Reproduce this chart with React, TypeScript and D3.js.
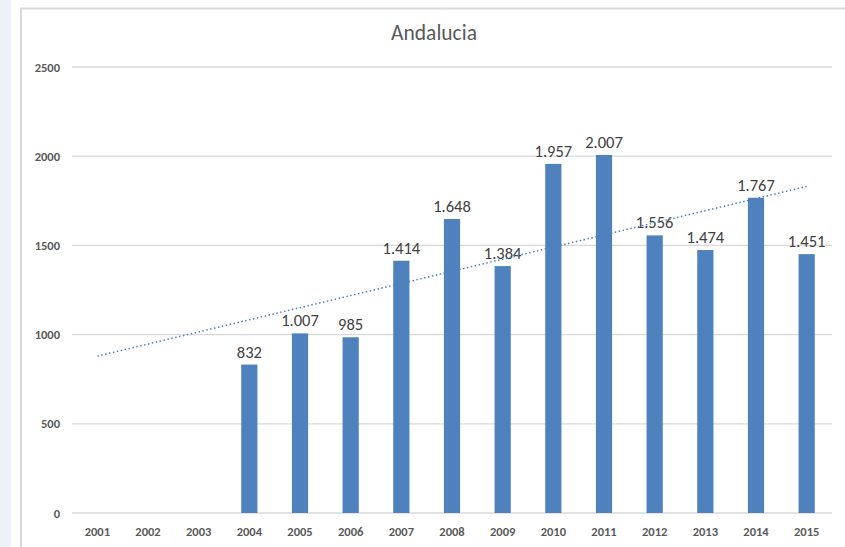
import React from "react";
import * as d3 from "d3";

const years = ["2001","2002","2003","2004","2005","2006","2007","2008","2009","2010","2011","2012","2013","2014","2015"];
const values: (number | null)[] = [null, null, null, 832, 1007, 985, 1414, 1648, 1384, 1957, 2007, 1556, 1474, 1767, 1451];
const yTicks = [0, 500, 1000, 1500, 2000, 2500];
const title = "Andalucia";

const W = 845, H = 547;
const left = 72, right = 832, top = 67, bottom = 513;

export default function App() {
  const x = d3.scaleBand<string>().domain(years).range([left, right]).paddingInner(0.68).paddingOuter(0.34);
  const y = d3.scaleLinear().domain([0, 2500]).range([bottom, top]);
  const fmt = (v: number) => d3.format(",")(v).replace(/,/g, ".");

  // linear trend (least squares over available points, x index 1..15)
  const pts = values.map((v, i) => [i + 1, v] as [number, number | null]).filter(p => p[1] != null) as [number, number][];
  const mx = d3.mean(pts, p => p[0])!;
  const my = d3.mean(pts, p => p[1])!;
  const sxy = d3.sum(pts, p => (p[0] - mx) * (p[1] - my));
  const sxx = d3.sum(pts, p => (p[0] - mx) ** 2);
  const slope = sxy / sxx;
  const icpt = my - slope * mx;
  const trend = years.map((yr, i) => [yr, icpt + slope * (i + 1)] as [string, number]);
  const line = d3.line<[string, number]>()
    .x(d => x(d[0])! + x.bandwidth() / 2)
    .y(d => y(d[1]));
  const trendEnds = [trend[0], trend[trend.length - 1]];

  const font = "Calibri, Carlito, 'Liberation Sans', Arial, sans-serif";

  return (
    <svg width={W} height={H} style={{ position: "absolute", left: 0, top: 0, display: "block" }} fontFamily={font}>
      <rect x={0} y={0} width={W} height={H} fill="#ffffff" />
      <rect x={0} y={0} width={11} height={H} fill="#eef2f8" />
      <rect x={21} y={8.5} width={W + 10} height={H + 10} fill="#ffffff" stroke="#d9d9d9" strokeWidth={2} />
      <text x={434} y={40} textAnchor="middle" fontSize={21.5} fill="#595959">{title}</text>
      {yTicks.map(t => (
        <g key={t}>
          <line x1={left} x2={right} y1={y(t)} y2={y(t)} stroke="#d9d9d9" strokeWidth={1.3} />
          <text x={left - 12} y={y(t) + 4.5} textAnchor="end" fontSize={12.5} fontWeight="bold" fill="#595959">{t}</text>
        </g>
      ))}
      {years.map((yr, i) => values[i] != null && (
        <g key={yr}>
          <rect x={x(yr)!} y={y(values[i]!)} width={x.bandwidth()} height={bottom - y(values[i]!)} fill="#4f81bd" />
          <text x={x(yr)! + x.bandwidth() / 2} y={y(values[i]!) - 7} textAnchor="middle" fontSize={16.5} fill="#404040">{fmt(values[i]!)}</text>
        </g>
      ))}
      <path d={line(trendEnds)!} fill="none" stroke="#4f81bd" strokeWidth={1.5} strokeDasharray="1.5 2.5" />
      {years.map(yr => (
        <text key={yr} x={x(yr)! + x.bandwidth() / 2} y={536} textAnchor="middle" fontSize={12.5} fontWeight="bold" fill="#595959">{yr}</text>
      ))}
    </svg>
  );
}
